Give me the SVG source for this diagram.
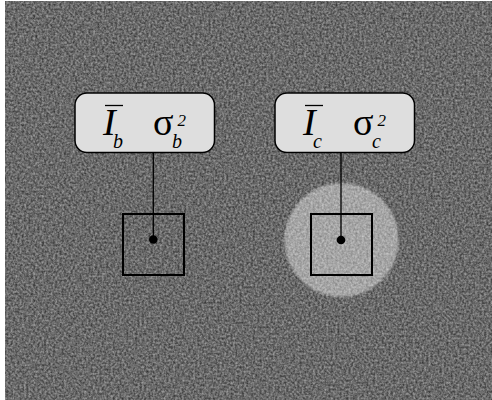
<svg xmlns="http://www.w3.org/2000/svg" width="492" height="400" viewBox="0 0 492 400">
<defs>
<filter id="noise" x="0" y="0" width="100%" height="100%" color-interpolation-filters="sRGB">
<feTurbulence type="fractalNoise" baseFrequency="0.45" numOctaves="2" seed="3" result="n"/>
<feColorMatrix type="matrix" values="0.55 0 0 0 0.14  0.55 0 0 0 0.14  0.55 0 0 0 0.14  0 0 0 0 1"/>
</filter>
<filter id="soft" x="-10%" y="-10%" width="120%" height="120%"><feGaussianBlur stdDeviation="1.2"/></filter>
<style>
.lbl{fill:#dedede;stroke:#000;stroke-width:1.5}
.sq{fill:none;stroke:#000;stroke-width:2}
.ln{stroke:#000;stroke-width:1.3}
.it{font-family:"Liberation Serif",serif;font-style:italic}
.up{font-family:"Liberation Serif",serif}
</style>
</defs>
<rect x="0" y="0" width="492" height="400" fill="#fff"/>
<rect x="5" y="1" width="487" height="399" fill="#606060" filter="url(#noise)"/>
<circle cx="341.5" cy="240" r="57" fill="#fff" opacity="0.4" filter="url(#soft)"/>
<g id="connectors">
<line class="ln" x1="153.3" y1="152" x2="153.3" y2="239.5"/>
<line class="ln" x1="341" y1="152" x2="341" y2="240"/>
</g>
<g id="label-b">
<rect class="lbl" x="75" y="93" width="139.5" height="59.5" rx="12"/>
<line x1="105" y1="105.5" x2="123" y2="105.5" stroke="#000" stroke-width="1.3"/>
<text class="it" x="103" y="135" font-size="38">I</text>
<text class="it" x="113" y="148" font-size="20">b</text>
<text class="up" x="153" y="135" font-size="38">σ</text>
<text class="it" x="172" y="148" font-size="20">b</text>
<text class="it" x="177.5" y="126" font-size="17">2</text>
</g>
<g id="label-c">
<rect class="lbl" x="275" y="93" width="139.5" height="59.5" rx="12"/>
<line x1="305" y1="105.5" x2="323" y2="105.5" stroke="#000" stroke-width="1.3"/>
<text class="it" x="303" y="135" font-size="38">I</text>
<text class="it" x="313" y="148" font-size="20">c</text>
<text class="up" x="353" y="135" font-size="38">σ</text>
<text class="it" x="372" y="148" font-size="20">c</text>
<text class="it" x="377.5" y="126" font-size="17">2</text>
</g>
<g id="region-b">
<rect class="sq" x="123" y="214" width="61" height="61"/>
<circle cx="153.3" cy="239.5" r="4.3" fill="#000"/>
</g>
<g id="region-c">
<rect class="sq" x="311" y="214" width="61" height="61"/>
<circle cx="341" cy="240" r="4.3" fill="#000"/>
</g>
</svg>
